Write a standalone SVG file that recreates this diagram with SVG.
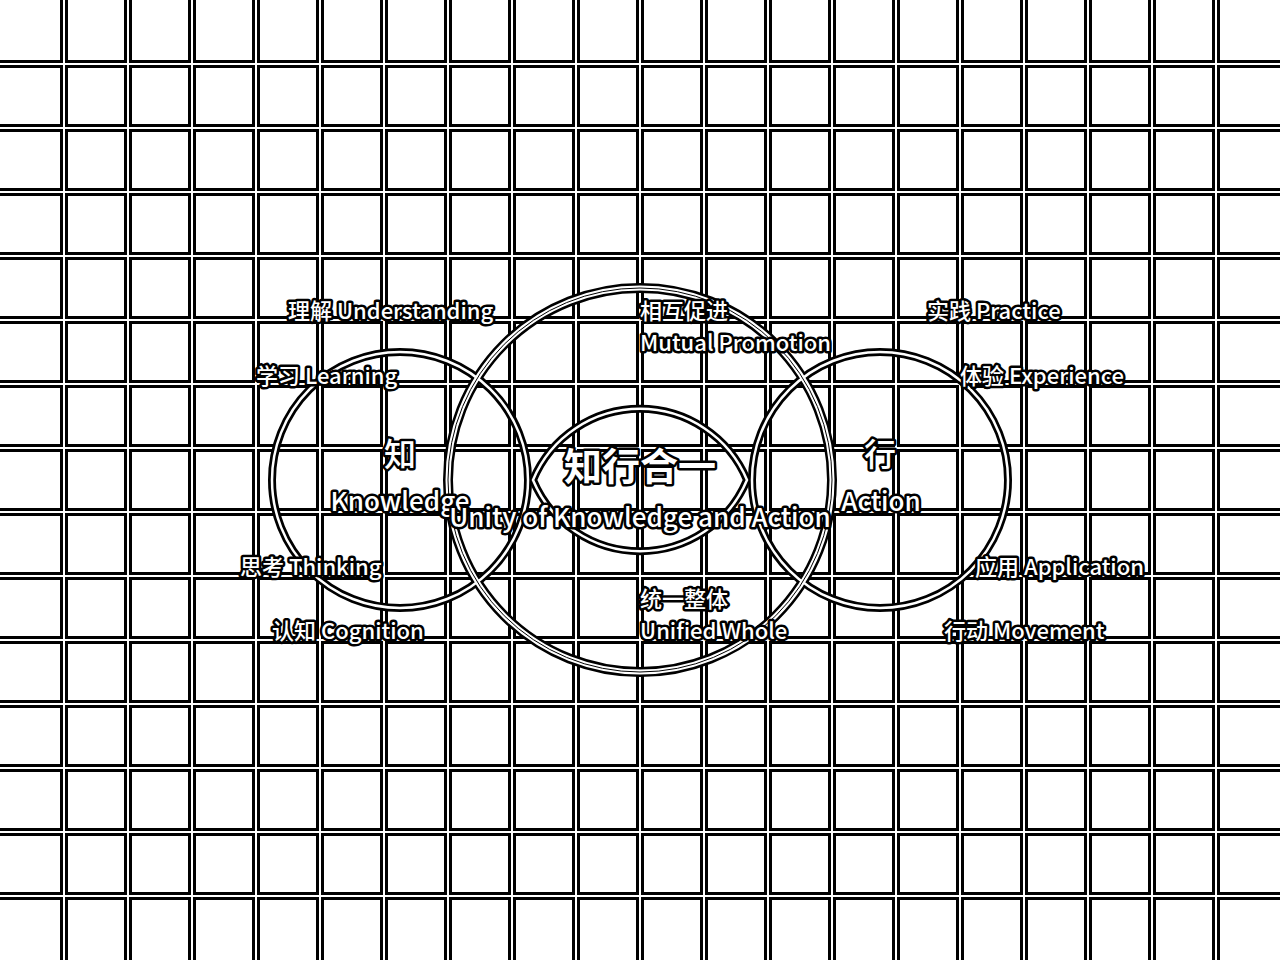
<svg xmlns="http://www.w3.org/2000/svg" width="1280" height="960" viewBox="0 0 1280 960">
<defs>
<style>
.gb{stroke:#000;stroke-width:8;fill:none}
.gw{stroke:#fff;stroke-width:2;fill:none}
.cb{stroke:#000;stroke-width:8;fill:none}
.cw{stroke:#fff;stroke-width:2.5;fill:none}
.t{font-family:"Noto Sans CJK SC","Noto Sans",sans-serif;fill:#fff;stroke:#000;stroke-width:5;stroke-linejoin:round;paint-order:stroke;font-weight:500}
.s{font-size:22px}
.m{font-size:26px}
.k{font-size:32px}
.h{font-size:38px;font-weight:700}
</style>
</defs>
<rect width="1280" height="960" fill="#fff"/>
<g id="grid">
<path class="gb" d="M64 0V960M128 0V960M192 0V960M256 0V960M320 0V960M384 0V960M448 0V960M512 0V960M576 0V960M640 0V960M704 0V960M768 0V960M832 0V960M896 0V960M960 0V960M1024 0V960M1088 0V960M1152 0V960M1216 0V960M0 64H1280M0 128H1280M0 192H1280M0 256H1280M0 320H1280M0 384H1280M0 448H1280M0 512H1280M0 576H1280M0 640H1280M0 704H1280M0 768H1280M0 832H1280M0 896H1280"/>
<path class="gw" d="M64 0V960M128 0V960M192 0V960M256 0V960M320 0V960M384 0V960M448 0V960M512 0V960M576 0V960M640 0V960M704 0V960M768 0V960M832 0V960M896 0V960M960 0V960M1024 0V960M1088 0V960M1152 0V960M1216 0V960M0 64H1280M0 128H1280M0 192H1280M0 256H1280M0 320H1280M0 384H1280M0 448H1280M0 512H1280M0 576H1280M0 640H1280M0 704H1280M0 768H1280M0 832H1280M0 896H1280"/>
</g>
<g id="shapes">
<circle class="cb" cx="400" cy="480" r="128"/>
<circle class="cb" cx="880" cy="480" r="128"/>
<circle cx="640" cy="480" r="192" fill="none" stroke="#000" stroke-width="10"/>
<path class="cb" d="M533 480A116 116 0 0 1 747 480A116 116 0 0 1 533 480Z"/>
<circle class="cw" cx="400" cy="480" r="128"/>
<circle class="cw" cx="880" cy="480" r="128"/>
<circle cx="640" cy="480" r="192" fill="none" stroke="#fff" stroke-width="5"/>
<circle cx="640" cy="480" r="192" fill="none" stroke="#000" stroke-width="1"/>
<path class="cw" d="M533 480A116 116 0 0 1 747 480A116 116 0 0 1 533 480Z"/>
</g>
<g id="zhi">
<text class="t k" x="400" y="466" text-anchor="middle">知</text>
<text class="t m" x="400" y="511" text-anchor="middle">Knowledge</text>
</g>
<g id="xing">
<text class="t k" x="880" y="466" text-anchor="middle">行</text>
<text class="t m" x="881" y="511" text-anchor="middle">Action</text>
</g>
<g id="center">
<text class="t h" x="640" y="480" text-anchor="middle">知行合一</text>
<text class="t m" x="640" y="527" text-anchor="middle">Unity of Knowledge and Action</text>
</g>
<g id="labels">
<text class="t s" x="288" y="319">理解 Understanding</text>
<text class="t s" x="256" y="384">学习 Learning</text>
<text class="t s" x="240" y="575">思考 Thinking</text>
<text class="t s" x="272" y="639">认知 Cognition</text>
<text class="t s" x="640" y="319">相互促进</text>
<text class="t s" x="640" y="351">Mutual Promotion</text>
<text class="t s" x="640" y="607">统一整体</text>
<text class="t s" x="640" y="639">Unified Whole</text>
<text class="t s" x="927" y="319">实践 Practice</text>
<text class="t s" x="960" y="384">体验 Experience</text>
<text class="t s" x="975" y="575">应用 Application</text>
<text class="t s" x="944" y="639">行动 Movement</text>
</g>
</svg>
